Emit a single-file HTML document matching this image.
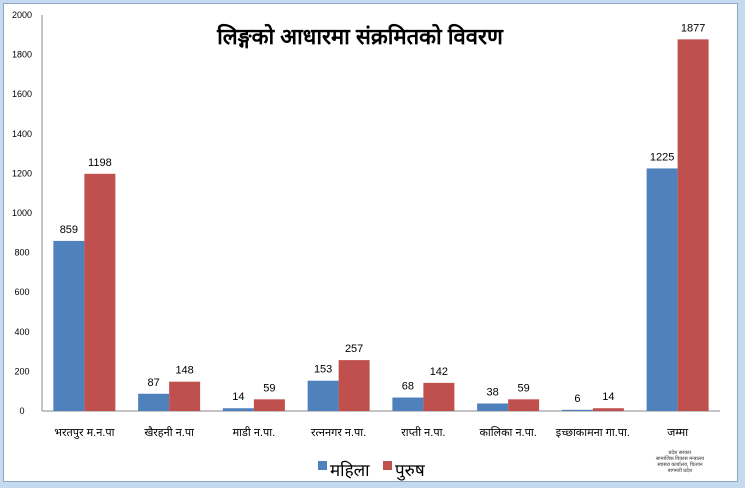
<!DOCTYPE html>
<html><head><meta charset="utf-8"><style>
body{margin:0;width:745px;height:488px;background:#c5d9ef;overflow:hidden;font-family:"Liberation Sans","Noto Sans CJK SC",sans-serif;}
#frame{position:absolute;left:3px;top:3px;width:733px;height:477px;background:#fff;border:1px solid #8fa6c0;}
svg{position:absolute;left:0;top:0;}
text{font-family:"Liberation Sans","Noto Sans CJK SC",sans-serif;}
</style></head><body>
<div id="frame"></div>
<svg id="chart" width="745" height="488">
<text x="360" y="44" text-anchor="middle" font-size="22" font-weight="bold" fill="#000">लिङ्गको आधारमा संक्रमितको विवरण</text>
<g>
<rect x="318" y="461" width="9" height="9" fill="#4f81bd"/>
<text x="330" y="476" font-size="17">महिला</text>
<rect x="383" y="461" width="9" height="9" fill="#c0504d"/>
<text x="395" y="476" font-size="17">पुरुष</text>
</g>
<g font-size="5" text-anchor="middle" fill="#333">
<text x="680" y="454">प्रदेश सरकार</text>
<text x="680" y="460">सामाजिक विकास मन्त्रालय</text>
<text x="680" y="466">स्वास्थ्य कार्यालय, चितवन</text>
<text x="680" y="472">बागमती प्रदेश</text>
</g>
</svg>
<script>
const categories=["भरतपुर म.न.पा","खैरहनी न.पा","माडी न.पा.","रत्ननगर न.पा.","राप्ती न.पा.","कालिका न.पा.","इच्छाकामना गा.पा.","जम्मा"];
const female=[859,87,14,153,68,38,6,1225];
const male=[1198,148,59,257,142,59,14,1877];
const yTicks=[0,200,400,600,800,1000,1200,1400,1600,1800,2000];
const svg=document.getElementById('chart');
const NS='http://www.w3.org/2000/svg';
const X0=42,X1=720,Y0=411,Y1=15,YMAX=2000;
const y=v=>Y0-(v/YMAX)*(Y0-Y1);
const gw=(X1-X0)/categories.length;
const bw=31;
function mk(t,a){const e=document.createElementNS(NS,t);for(const k in a)e.setAttribute(k,a[k]);svg.appendChild(e);return e;}
let ax=mk('line',{x1:X0,y1:Y1,x2:X0,y2:Y0,stroke:'#888'});


let bx=mk('line',{x1:X0,y1:Y0,x2:X1,y2:Y0,stroke:'#888'});


yTicks.forEach(t=>{
 const tl=mk('text',{x:22,y:y(t)+3,'text-anchor':'middle','font-size':9});
 tl.textContent=t;
 
 
});
categories.forEach((c,i)=>{
 const cx=X0+gw*(i+0.5);
 [[female[i],'#4f81bd',cx-bw,'female'],[male[i],'#c0504d',cx,'male']].forEach(([v,col,x,s])=>{
  const r=mk('rect',{x:x,y:y(v),width:bw,height:Y0-y(v),fill:col});
  
  
  const l=mk('text',{x:x+bw/2,y:y(v)-8,'text-anchor':'middle','font-size':11});
  l.textContent=v;
  
  
 });
 const cl=mk('text',{x:cx,y:436,'text-anchor':'middle','font-size':11});
 cl.textContent=c;
 
 
});
</script>
</body></html>
